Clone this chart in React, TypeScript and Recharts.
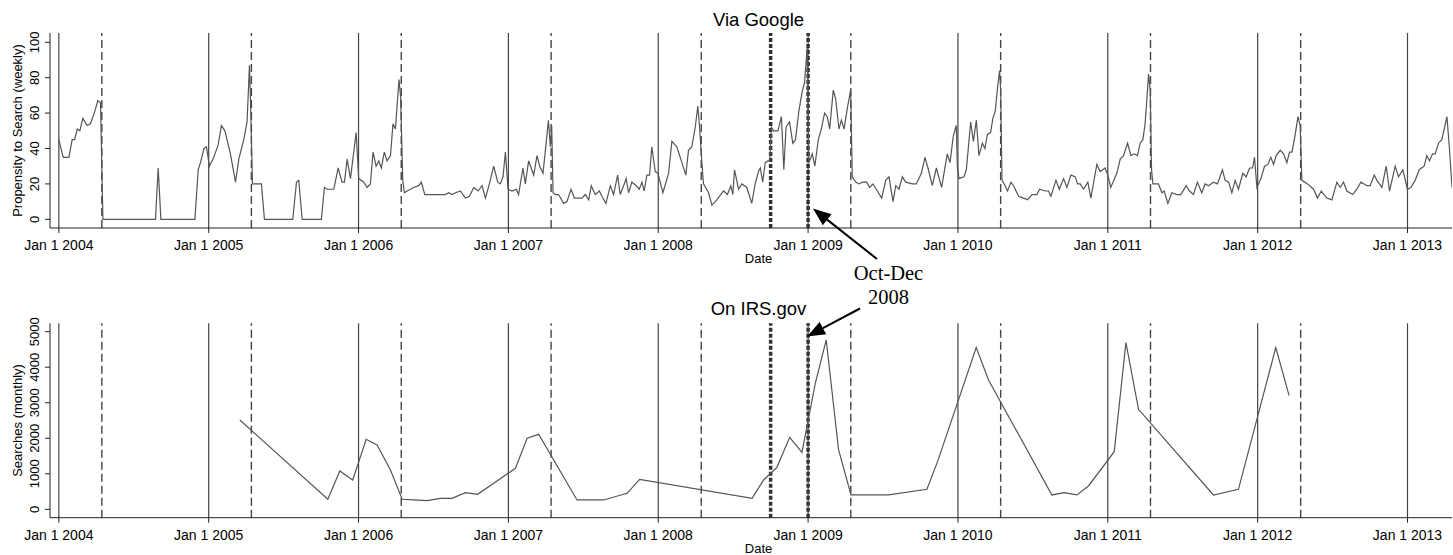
import React from "react";
import { Line, LineChart, ReferenceLine, XAxis, YAxis } from "recharts";

// dates as decimal years
const googleDates = [
  2004.0, 2004.029, 2004.067, 2004.089, 2004.105, 2004.123, 2004.14, 2004.16, 2004.189, 2004.211, 2004.24, 2004.26, 2004.278, 2004.294, 2004.645, 2004.663, 2004.681, 2004.908, 2004.93, 2004.945, 2004.968, 2004.985,
  2005.005, 2005.034, 2005.063, 2005.085, 2005.108, 2005.145, 2005.179, 2005.201, 2005.234, 2005.256, 2005.272, 2005.279, 2005.292, 2005.352, 2005.372, 2005.561, 2005.586, 2005.601, 2005.624, 2005.752, 2005.772, 2005.79, 2005.835, 2005.864, 2005.89, 2005.906, 2005.924, 2005.946, 2005.984,
  2006.001, 2006.035, 2006.057, 2006.079, 2006.097, 2006.117, 2006.135, 2006.152, 2006.172, 2006.19, 2006.213, 2006.23, 2006.246, 2006.27, 2006.281, 2006.295, 2006.306, 2006.324, 2006.368, 2006.402, 2006.419, 2006.442, 2006.58, 2006.602, 2006.624, 2006.647, 2006.68, 2006.713, 2006.74, 2006.769, 2006.798, 2006.824, 2006.847, 2006.873, 2006.902, 2006.929, 2006.946, 2006.964, 2006.98, 2006.998,
  2007.024, 2007.053, 2007.068, 2007.097, 2007.113, 2007.135, 2007.169, 2007.191, 2007.209, 2007.231, 2007.253, 2007.267, 2007.28, 2007.289, 2007.298, 2007.313, 2007.335, 2007.369, 2007.391, 2007.418, 2007.44, 2007.491, 2007.513, 2007.536, 2007.553, 2007.58, 2007.607, 2007.624, 2007.651, 2007.68, 2007.702, 2007.729, 2007.746, 2007.769, 2007.786, 2007.802, 2007.824, 2007.853, 2007.873, 2007.891, 2007.906, 2007.924, 2007.942, 2007.957, 2007.98, 2007.998,
  2008.031, 2008.069, 2008.091, 2008.124, 2008.158, 2008.184, 2008.202, 2008.224, 2008.247, 2008.264, 2008.276, 2008.291, 2008.302, 2008.336, 2008.358, 2008.391, 2008.436, 2008.462, 2008.484, 2008.498, 2008.509, 2008.536, 2008.558, 2008.591, 2008.624, 2008.647, 2008.669, 2008.681, 2008.697, 2008.714, 2008.732, 2008.744, 2008.755, 2008.77, 2008.799, 2008.822, 2008.838, 2008.853, 2008.876, 2008.898, 2008.916, 2008.938, 2008.96, 2008.976, 2008.994,
  2009.005, 2009.028, 2009.045, 2009.068, 2009.088, 2009.11, 2009.128, 2009.144, 2009.168, 2009.184, 2009.206, 2009.222, 2009.24, 2009.262, 2009.284, 2009.295, 2009.318, 2009.34, 2009.362, 2009.391, 2009.411, 2009.433, 2009.455, 2009.491, 2009.518, 2009.54, 2009.567, 2009.585, 2009.607, 2009.629, 2009.651, 2009.696, 2009.722, 2009.756, 2009.78, 2009.803, 2009.829, 2009.856, 2009.891, 2009.929, 2009.947, 2009.969, 2009.989, 2009.996,
  2010.007, 2010.04, 2010.056, 2010.085, 2010.103, 2010.123, 2010.14, 2010.163, 2010.18, 2010.196, 2010.218, 2010.233, 2010.249, 2010.265, 2010.278, 2010.285, 2010.294, 2010.309, 2010.331, 2010.354, 2010.371, 2010.405, 2010.438, 2010.465, 2010.494, 2010.527, 2010.545, 2010.583, 2010.605, 2010.62, 2010.654, 2010.676, 2010.705, 2010.727, 2010.754, 2010.783, 2010.798, 2010.816, 2010.838, 2010.867, 2010.887, 2010.927, 2010.949, 2010.982,
  2011.0, 2011.02, 2011.06, 2011.083, 2011.105, 2011.132, 2011.154, 2011.176, 2011.198, 2011.216, 2011.234, 2011.249, 2011.26, 2011.272, 2011.283, 2011.292, 2011.301, 2011.338, 2011.361, 2011.376, 2011.401, 2011.427, 2011.461, 2011.487, 2011.523, 2011.545, 2011.572, 2011.598, 2011.627, 2011.649, 2011.672, 2011.705, 2011.732, 2011.765, 2011.783, 2011.806, 2011.828, 2011.85, 2011.872, 2011.901, 2011.923, 2011.946, 2011.966, 2011.979,
  2011.995, 2012.022, 2012.046, 2012.068, 2012.088, 2012.106, 2012.124, 2012.151, 2012.173, 2012.195, 2012.213, 2012.229, 2012.251, 2012.269, 2012.284, 2012.295, 2012.333, 2012.373, 2012.4, 2012.424, 2012.462, 2012.495, 2012.529, 2012.551, 2012.573, 2012.595, 2012.635, 2012.662, 2012.689, 2012.729, 2012.751, 2012.778, 2012.796, 2012.829, 2012.858, 2012.88, 2012.918, 2012.94, 2012.969,
  2013.0, 2013.022, 2013.051, 2013.078, 2013.111, 2013.129, 2013.147, 2013.167, 2013.185, 2013.207, 2013.229, 2013.245, 2013.263, 2013.28, 2013.297,
];

const googleValues = [
  45, 35, 35, 45, 45, 51, 50, 57, 53, 54, 61, 67, 66, 0, 0, 29, 0, 0, 28, 32, 40, 41,
  30, 35, 42, 53, 50, 37, 21, 34, 45, 55, 87, 67, 20, 20, 0, 0, 21, 22, 0, 0, 18, 17, 17, 29, 21, 21, 34, 23, 49,
  23, 21, 18, 20, 38, 30, 33, 29, 38, 33, 36, 54, 51, 79, 69, 22, 15, 16, 18, 19, 21, 14, 14, 15, 14, 15, 16, 12, 13, 18, 16, 19, 12, 20, 30, 21, 20, 24, 38, 17,
  16, 17, 14, 29, 20, 33, 25, 36, 30, 26, 44, 56, 41, 53, 15, 14, 14, 9, 10, 17, 12, 12, 14, 11, 19, 14, 16, 13, 9, 19, 14, 25, 14, 19, 23, 15, 21, 19, 17, 21, 16, 25, 25, 41, 27, 26,
  15, 26, 44, 41, 32, 25, 39, 41, 52, 64, 52, 32, 20, 15, 8, 11, 16, 14, 19, 14, 28, 17, 20, 18, 9, 20, 27, 29, 21, 32, 33, 33, 52, 50, 50, 58, 28, 52, 55, 43, 45, 61, 72, 77, 97,
  32, 37, 30, 45, 51, 60, 58, 51, 73, 68, 51, 56, 51, 63, 73, 24, 21, 20, 21, 21, 18, 20, 17, 12, 22, 24, 10, 19, 17, 24, 21, 20, 20, 26, 35, 28, 19, 29, 18, 37, 32, 47, 53, 30,
  23, 24, 28, 55, 44, 56, 36, 43, 40, 48, 49, 57, 61, 75, 84, 73, 22, 20, 16, 21, 19, 13, 12, 11, 14, 14, 17, 16, 16, 13, 22, 17, 23, 18, 25, 24, 20, 20, 17, 21, 12, 31, 27, 29,
  25, 18, 26, 34, 36, 43, 36, 37, 36, 43, 45, 54, 67, 82, 73, 28, 20, 20, 15, 16, 9, 15, 14, 14, 19, 16, 14, 21, 15, 20, 19, 21, 20, 28, 22, 21, 15, 22, 17, 26, 24, 29, 29, 35,
  18, 23, 30, 31, 35, 31, 36, 39, 37, 32, 38, 38, 48, 58, 53, 22, 20, 17, 12, 16, 12, 11, 21, 18, 21, 16, 14, 17, 21, 19, 19, 25, 22, 18, 30, 16, 30, 24, 28,
  17, 18, 22, 28, 30, 36, 33, 37, 37, 43, 45, 51, 58, 40, 18,
];

const irsDates = [
  2005.208, 2005.795, 2005.875, 2005.961, 2006.051, 2006.124, 2006.213, 2006.291, 2006.368, 2006.458, 2006.546, 2006.624, 2006.713, 2006.795,
  2007.047, 2007.125, 2007.202, 2007.458, 2007.636, 2007.792, 2007.876,
  2008.626, 2008.703, 2008.792, 2008.877, 2008.959,
  2009.048, 2009.121, 2009.203, 2009.286, 2009.537, 2009.793, 2009.864,
  2010.122, 2010.204, 2010.627, 2010.709, 2010.794, 2010.871,
  2011.043, 2011.121, 2011.205, 2011.705, 2011.872,
  2012.121, 2012.21,
];

const irsValues = [
  2515, 282, 1079, 826, 1971, 1811, 1107, 282, 263, 244, 310, 310, 469, 422,
  1154, 1999, 2111, 263, 263, 450, 845,
  310, 826, 1182, 2027, 1605,
  3547, 4767, 1689, 404, 404, 563, 1342,
  4551, 3641, 404, 469, 404, 657,
  1623, 4692, 2815, 404, 563,
  4551, 3200,
];

const yearTicks = [2004, 2005, 2006, 2007, 2008, 2009, 2010, 2011, 2012, 2013];
// April 15 of each year
const taxDays = [2004.287, 2005.285, 2006.285, 2007.285, 2008.287, 2009.285, 2010.285, 2011.285, 2012.287];
// Oct 1 2008 and Jan 1 2009
const octDecBounds = [2008.75, 2009.0];

const googleTicks = [0, 20, 40, 60, 80, 100];
const irsTicks = [0, 1000, 2000, 3000, 4000, 5000];

const googleData = googleDates.map((t, i) => ({ t, v: googleValues[i] }));
const irsData = irsDates.map((t, i) => ({ t, v: irsValues[i] }));

const SANS = "'Liberation Sans', Arial, sans-serif";
const SERIF = "'Liberation Serif', 'Times New Roman', serif";
const X_DOMAIN: [number, number] = [2003.941, 2013.297];

function RotatedTick(props: any) {
  const { x, y, payload } = props;
  return (
    <text
      x={x}
      y={y}
      transform={`rotate(-90 ${x} ${y})`}
      textAnchor="middle"
      fontSize={13}
      fontFamily={SANS}
      fill="#000"
    >
      {payload.value}
    </text>
  );
}

type PanelProps = {
  data: { t: number; v: number }[];
  height: number;
  marginTop: number;
  axisHeight: number;
  yDomain: [number, number];
  yTicks: number[];
};

function Panel({ data, height, marginTop, axisHeight, yDomain, yTicks }: PanelProps) {
  return (
    <LineChart
      width={1453}
      height={height}
      data={data}
      margin={{ top: marginTop, right: 1, bottom: 0, left: 0 }}
    >
      <XAxis
        dataKey="t"
        type="number"
        domain={X_DOMAIN}
        ticks={yearTicks}
        interval={0}
        allowDataOverflow
        tickFormatter={(v) => `Jan 1 ${v}`}
        height={axisHeight}
        tickSize={5}
        tickMargin={7}
        tick={{ fill: "#000", fontSize: 14, fontFamily: SANS }}
        axisLine={{ stroke: "#222" }}
        tickLine={{ stroke: "#222" }}
      />
      <XAxis
        xAxisId="top"
        orientation="top"
        type="number"
        domain={X_DOMAIN}
        height={0}
        tick={false}
        tickLine={false}
        axisLine={{ stroke: "#222" }}
      />
      <YAxis
        type="number"
        domain={yDomain}
        ticks={yTicks}
        interval={0}
        allowDataOverflow
        width={50}
        tickSize={5}
        tickMargin={6}
        tick={RotatedTick}
        axisLine={{ stroke: "#222" }}
        tickLine={{ stroke: "#222" }}
      />
      {yearTicks.map((yr) => (
        <ReferenceLine key={`y${yr}`} x={yr} stroke="#444" strokeWidth={1.2} />
      ))}
      {taxDays.map((d) => (
        <ReferenceLine key={`d${d}`} x={d} stroke="#444" strokeWidth={1.4} strokeDasharray="8 4" />
      ))}
      {octDecBounds.map((d) => (
        <ReferenceLine key={`o${d}`} x={d} stroke="#333" strokeWidth={3.5} strokeDasharray="4 2" />
      ))}
      <Line
        type="linear"
        dataKey="v"
        stroke="#555"
        strokeWidth={1.2}
        dot={false}
        isAnimationActive={false}
      />
    </LineChart>
  );
}

function Arrow({ x1, y1, x2, y2 }: { x1: number; y1: number; x2: number; y2: number }) {
  const dx = x2 - x1;
  const dy = y2 - y1;
  const len = Math.hypot(dx, dy);
  const ux = dx / len;
  const uy = dy / len;
  const hl = 18;
  const hw = 7;
  const bx = x2 - ux * hl;
  const by = y2 - uy * hl;
  return (
    <g>
      <line x1={x1} y1={y1} x2={bx} y2={by} stroke="#000" strokeWidth={2} />
      <polygon
        points={`${x2},${y2} ${bx - uy * hw},${by + ux * hw} ${bx + uy * hw},${by - ux * hw}`}
        fill="#000"
      />
    </g>
  );
}

export default function App() {
  return (
    <div style={{ position: "absolute", left: 0, top: 0, width: 1453, height: 555, background: "#fff" }}>
      <div style={{ position: "absolute", left: 0, top: 0 }}>
        <Panel
          data={googleData}
          height={280}
          marginTop={33}
          axisHeight={52}
          yDomain={[-4.9, 105.25]}
          yTicks={googleTicks}
        />
      </div>
      <div style={{ position: "absolute", left: 0, top: 280 }}>
        <Panel
          data={irsData}
          height={275}
          marginTop={43.3}
          axisHeight={37.3}
          yDomain={[-236, 5236]}
          yTicks={irsTicks}
        />
      </div>
      <svg
        width={1453}
        height={555}
        style={{ position: "absolute", left: 0, top: 0, pointerEvents: "none" }}
      >
        <g fontFamily={SANS} fill="#000" textAnchor="middle">
          <text x={758.5} y={26} fontSize={18.5}>Via Google</text>
          <text x={758.5} y={263} fontSize={13}>Date</text>
          <text x={758.5} y={315} fontSize={18.5}>On IRS.gov</text>
          <text x={758.5} y={553} fontSize={13}>Date</text>
          <text x={22} y={130.5} fontSize={13} transform="rotate(-90 22 130.5)">
            Propensity to Search (weekly)
          </text>
          <text x={22} y={420.5} fontSize={13} transform="rotate(-90 22 420.5)">
            Searches (monthly)
          </text>
        </g>
        <g fontFamily={SERIF} fill="#000" textAnchor="middle" fontSize={20.5}>
          <text x={888.5} y={280}>Oct-Dec</text>
          <text x={888.5} y={304}>2008</text>
        </g>
        <Arrow x1={877} y1={259} x2={813} y2={208.5} />
        <Arrow x1={860} y1={308.5} x2={807} y2={336.5} />
      </svg>
    </div>
  );
}
